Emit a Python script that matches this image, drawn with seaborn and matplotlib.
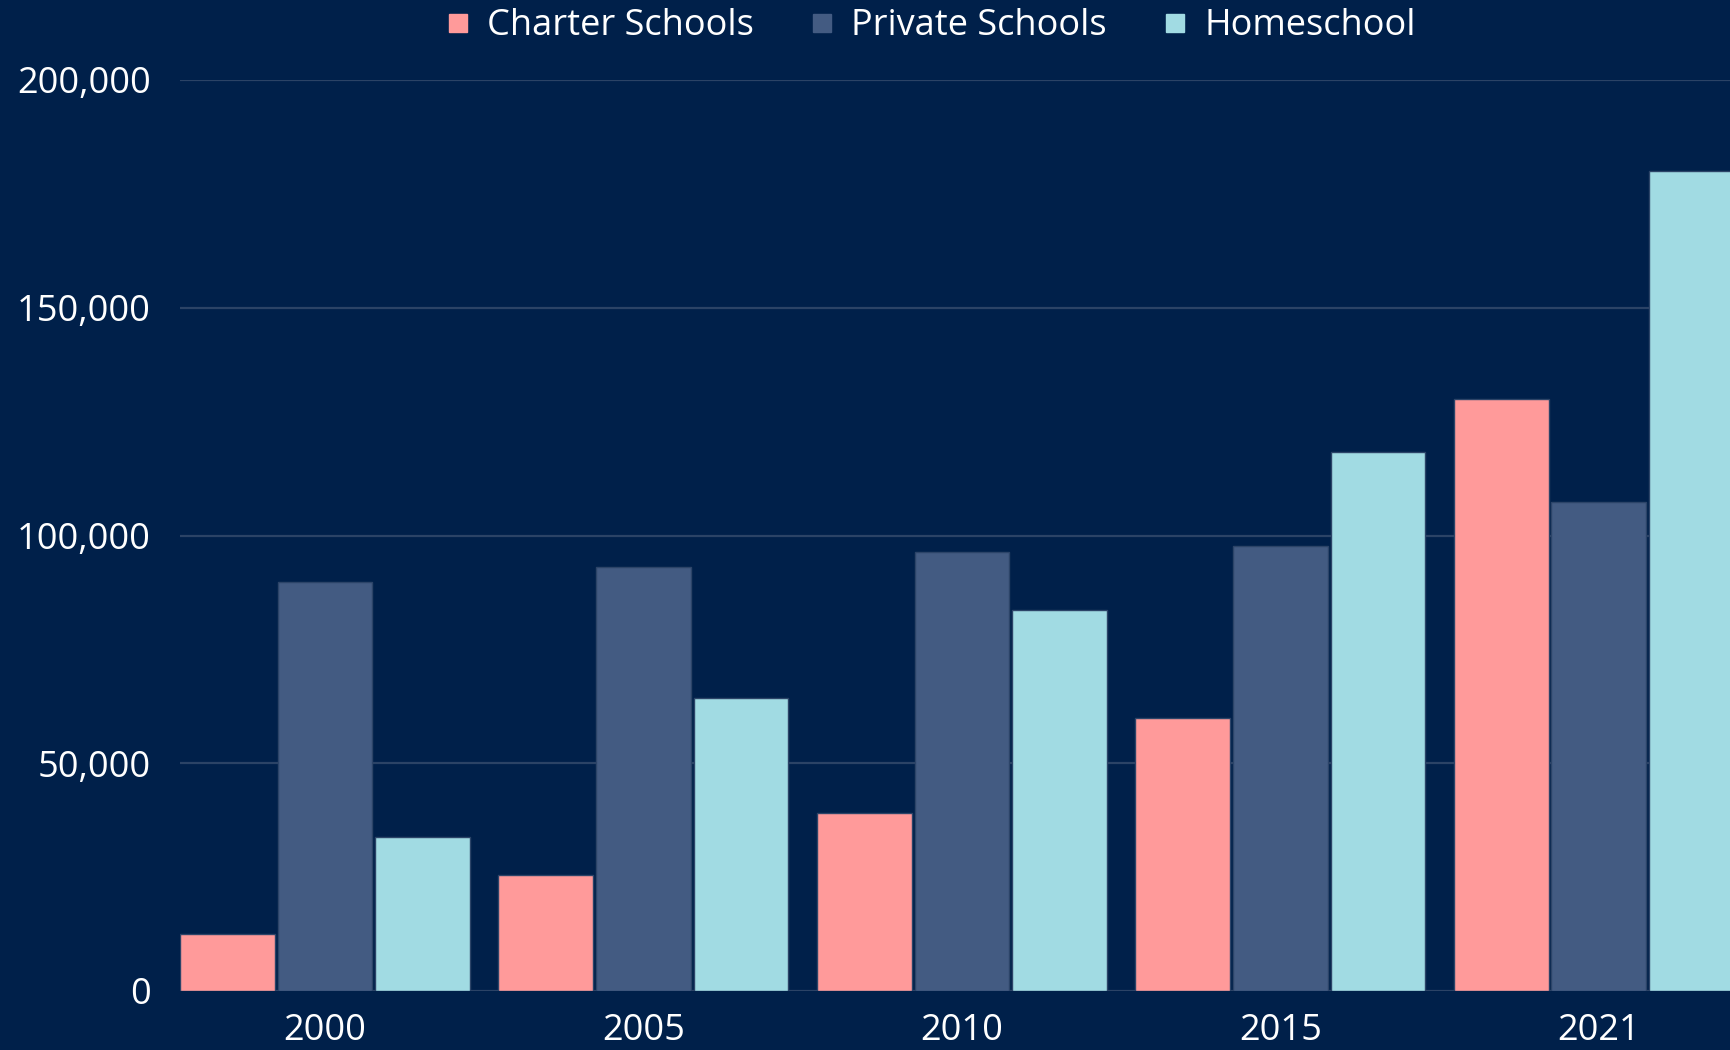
import pandas as pd
import matplotlib.pyplot as plt
import seaborn as sns
from matplotlib.lines import Line2D
from matplotlib.ticker import FuncFormatter

# valori (numar de elevi)
years = ['2000', '2005', '2010', '2015', '2021']
series_names = ['Charter Schools', 'Private Schools', 'Homeschool']
charter = [12600, 25500, 39000, 60000, 130000]
private = [89800, 93000, 96400, 97800, 107400]
homeschool = [33700, 64300, 83700, 118400, 180000]
y_ticks = [0, 50000, 100000, 150000, 200000]

bg = '#00204a'
culori = ['#ff9a9a', '#435b82', '#a1dbe3']

df = pd.DataFrame({
    'year': years * 3,
    'type': [s for s in series_names for _ in years],
    'value': charter + private + homeschool,
})

sns.set_theme(style='dark')
plt.rcParams['font.family'] = ['Open Sans', 'DejaVu Sans']

fig = plt.figure(figsize=(17.31, 10.5), dpi=100, facecolor=bg)
ax = fig.add_axes([180 / 1731, 1 - 991 / 1050, 1 - 180 / 1731, (991 - 80) / 1050])
ax.set_facecolor(bg)

sns.barplot(data=df, x='year', y='value', hue='type', hue_order=series_names,
            palette=culori, saturation=1, width=0.92, gap=0.03, ax=ax, legend=False,
            edgecolor='#2c4468', linewidth=1.0, zorder=3)

ax.set_xlim(-0.455, 4.415)
ax.set_ylim(0, 200000)
ax.set_yticks(y_ticks)
ax.yaxis.set_major_formatter(FuncFormatter(lambda v, p: f'{int(v):,}'))
ax.grid(axis='y', color='#2b4366', linewidth=1.6, zorder=0)
ax.grid(axis='x', visible=False)
for s in ax.spines.values():
    s.set_visible(False)
ax.set_xlabel('')
ax.set_ylabel('')
ax.tick_params(axis='x', length=0, pad=16, labelsize=26, labelcolor='white')
ax.tick_params(axis='y', length=0, pad=21, labelsize=26, labelcolor='white')

handles = [Line2D([0], [0], marker='s', linestyle='', markersize=13,
                  markerfacecolor=c, markeredgecolor=c) for c in culori]
fig.legend(handles, series_names, loc='center', bbox_to_anchor=(0.537, 0.975),
           ncol=3, frameon=False, fontsize=26, labelcolor='white',
           handletextpad=0.4, columnspacing=1.5, handlelength=0.8,
           borderpad=0, borderaxespad=0)

fig.savefig('out.png', dpi=100, facecolor=bg)
